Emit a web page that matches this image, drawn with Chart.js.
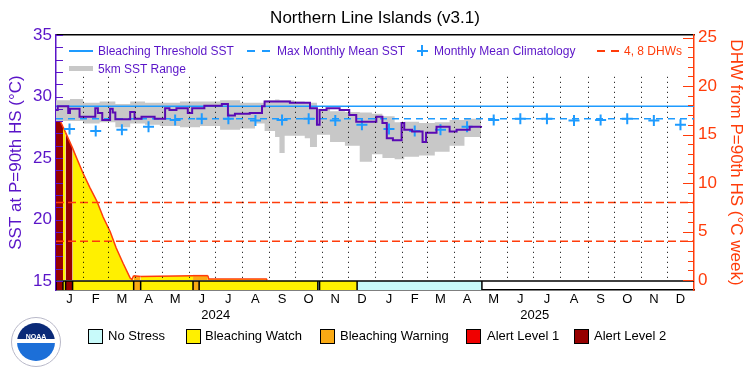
<!DOCTYPE html>
<html lang="en">
<head>
<meta charset="UTF-8">
<title>Northern Line Islands (v3.1)</title>
<script src="https://cdn.jsdelivr.net/npm/chart.js"></script>
<style>
  body { margin: 0; background: #fff; }
  #wrap { position: relative; width: 750px; height: 375px; font-family: "Liberation Sans", Arial, sans-serif; }
  #wrap canvas { position: absolute; left: 0; top: 0; }
  .lg { position: absolute; font-size: 12px; line-height: 14px; color: #5a14c8; white-space: nowrap; }
  .mk { position: absolute; }
  .sl { position: absolute; font-size: 13px; line-height: 16px; top: 328px; white-space: nowrap; color: #000; }
  .sb { position: absolute; top: 329px; width: 13px; height: 13px; border: 1px solid #000; box-sizing: content-box; }
  #logo { position: absolute; left: 11px; top: 317px; width: 48px; height: 48px; border-radius: 50%; border: 1px solid #b8b8c8; background: #fff; }
  #logo div { position: absolute; left: 5px; top: 5px; width: 38px; height: 38px; border-radius: 50%;
    background: linear-gradient(#0a2a78 0 42%, #fff 42% 52%, #1c6fd8 52%); }
  #logo span { position: absolute; left: 0; width: 48px; top: 15px; text-align: center; color: #fff; font-size: 7px; font-weight: bold; }
</style>
</head>
<body>
<div id="wrap">
  <canvas id="chart" width="750" height="375"></canvas>

  <!-- legend inside plot -->
  <div class="mk" style="left:69px;top:50px;width:24px;height:1.5px;background:#1e9bff"></div>
  <div class="lg" style="left:98px;top:44px">Bleaching Threshold SST</div>
  <div class="mk" style="left:247px;top:50px;width:23px;height:2px;background:linear-gradient(to right,#1e9bff 0 8px,transparent 8px 15px,#1e9bff 15px 23px)"></div>
  <div class="lg" style="left:277px;top:44px">Max Monthly Mean SST</div>
  <div class="mk" style="left:417px;top:50px;width:11px;height:2px;background:#1e9bff"></div>
  <div class="mk" style="left:421px;top:45px;width:2px;height:11px;background:#1e9bff"></div>
  <div class="lg" style="left:434px;top:44px">Monthly Mean Climatology</div>
  <div class="mk" style="left:597px;top:50px;width:22px;height:1.5px;background:linear-gradient(to right,#ff3c0a 0 8px,transparent 8px 14px,#ff3c0a 14px 22px)"></div>
  <div class="lg" style="left:624px;top:44px;color:#ff3c0a">4, 8 DHWs</div>
  <div class="mk" style="left:69px;top:66px;width:24px;height:5px;background:#c8c8c8"></div>
  <div class="lg" style="left:98px;top:62px">5km SST Range</div>

  <!-- stress legend -->
  <div id="logo"><div></div><span>NOAA</span></div>
  <div class="sb" style="left:88px;background:#c8fafa"></div><div class="sl" style="left:108px">No Stress</div>
  <div class="sb" style="left:186px;background:#fff000"></div><div class="sl" style="left:205px">Bleaching Watch</div>
  <div class="sb" style="left:320px;background:#faaa14"></div><div class="sl" style="left:340px">Bleaching Warning</div>
  <div class="sb" style="left:466px;background:#f00000"></div><div class="sl" style="left:487px">Alert Level 1</div>
  <div class="sb" style="left:574px;background:#960000"></div><div class="sl" style="left:594px">Alert Level 2</div>
</div>

<script>
// x values are days since 1 Jan 2024
const monthLetters = ['J', 'F', 'M', 'A', 'M', 'J', 'J', 'A', 'S', 'O', 'N', 'D'];
const years = [2024, 2025];

const sstDay = [0, 2, 14, 16, 27, 45, 48, 53, 62, 65, 68, 85, 90, 98, 113, 125, 130, 138, 151, 156,
  170, 190, 197, 205, 222, 236, 239, 268, 291, 299, 302, 310, 325, 336, 344, 367, 374, 379, 386, 396,
  399, 408, 420, 424, 436, 451, 459, 474, 487];
const sstValue = [28.9, 29.2, 28.65, 29.0, 28.35, 29.05, 28.65, 28.1, 29.0, 28.7, 28.15, 28.75, 28.2, 28.35, 28.2, 29.05, 28.9, 29.05, 28.65, 29.05,
  29.25, 29.4, 28.45, 28.6, 28.65, 29.2, 29.6, 29.5, 29.05, 27.7, 28.9, 29.05, 28.9, 28.5, 27.95, 28.35, 27.85, 26.6, 26.45, 27.85,
  27.3, 27.15, 26.3, 27.05, 27.55, 27.15, 27.3, 27.55, 27.6];

const rangeDay = [0, 16, 31, 50, 68, 85, 102, 119, 142, 165, 188, 211, 228, 239, 251, 256, 262, 273, 285, 291,
  299, 314, 331, 348, 362, 374, 388, 399, 416, 434, 451, 468, 487];
const rangeMin = [28.0, 28.0, 27.8, 27.9, 27.5, 27.8, 27.7, 27.6, 27.5, 27.6, 27.3, 27.4, 27.8, 27.2, 26.7, 25.4, 26.8, 26.8, 26.6, 25.9,
  26.9, 26.3, 26.0, 24.7, 25.3, 25.0, 24.9, 25.1, 25.2, 25.5, 26.0, 26.7, 27.6];
const rangeMax = [29.7, 29.8, 29.5, 29.6, 29.4, 29.6, 29.5, 29.5, 29.6, 29.6, 29.7, 29.5, 29.5, 29.7, 29.75, 29.7, 29.7, 29.6, 29.55, 29.5,
  29.0, 28.8, 28.75, 28.7, 28.6, 28.4, 27.9, 27.95, 27.85, 27.9, 28.1, 28.2, 28.3];

const climatology = [27.35, 27.2, 27.3, 27.55, 28.1, 28.2, 28.2, 28.05, 28.1, 28.2, 28.05, 27.7];
const bleachingThreshold = 29.2;
const maxMonthlyMean = 28.2;

const dhwDay = [0, 8, 11, 19, 24, 31, 39, 47, 54, 62, 69, 77, 85, 87, 89, 97, 157, 174, 175, 241, 242];
const dhwValue = [17.3, 15.8, 15.2, 13.6, 12.5, 11.0, 9.5, 8.1, 6.5, 5.0, 3.3, 1.7, 0.2, 0.05, 0.45, 0.35, 0.45, 0.45, 0.1, 0.1, 0];
const dhwLevels = [4, 8];

// 0 no stress, 1 watch, 2 warning, 3 alert 1, 4 alert 2
const stressStart = [0, 8, 11, 19, 89, 97, 157, 164, 300, 302, 345];
const stressLevel = [4, 1, 4, 1, 2, 1, 2, 1, 0, 1, 0];
const stressEnd = 488;
const stressColors = ['#c8fafa', '#fff000', '#faaa14', '#f00000', '#960000'];

const purple = '#5a14c8', blue = '#1e9bff', orange = '#ff3c0a';
const FONT = 'Liberation Sans, Arial, sans-serif';
const yMin = 14.27, yMax = 35, y2Min = -1.03, y2Max = 25.26;

const dayOf = (y, m) => (Date.UTC(y, m, 1) - Date.UTC(2024, 0, 1)) / 864e5;
const monthStarts = [];
years.forEach(y => { for (let m = 0; m < 12; m++) monthStarts.push(dayOf(y, m)); });
monthStarts.push(dayOf(years[years.length - 1] + 1, 0));
const monthMids = monthStarts.slice(0, -1).map((d, i) => (d + monthStarts[i + 1]) / 2);
const yearMids = years.map(y => (dayOf(y, 0) + dayOf(y + 1, 0)) / 2);

function levelAt(day) {
  let lv = 0;
  stressStart.forEach((s, i) => { if (day >= s) lv = stressLevel[i]; });
  return lv;
}

const pts = (xs, ys) => xs.map((x, i) => ({x: x, y: ys[i]}));
const full = v => [{x: 0, y: v}, {x: monthStarts[monthStarts.length - 1], y: v}];

// dotted month separators, drawn over the filled areas
const monthGrid = {
  id: 'monthGrid',
  afterDatasetsDraw(chart) {
    const {ctx, scales: {x, y}} = chart;
    const top = y.getPixelForValue(31.6), bottom = y.getPixelForValue(15);
    ctx.save();
    ctx.strokeStyle = '#000';
    ctx.lineWidth = 1;
    ctx.setLineDash([1, 4]);
    monthStarts.slice(1, -1).forEach(d => {
      const px = Math.round(x.getPixelForValue(d)) + 0.5;
      ctx.beginPath(); ctx.moveTo(px, top); ctx.lineTo(px, bottom); ctx.stroke();
    });
    ctx.restore();
  }
};

// tick marks pointing into the plot
const innerTicks = {
  id: 'innerTicks',
  afterDraw(chart) {
    const {ctx, chartArea: a, scales: {y, y2}} = chart;
    ctx.save();
    ctx.lineWidth = 1;
    ctx.strokeStyle = purple;
    for (let v = 15; v <= 35; v++) {
      const py = Math.round(y.getPixelForValue(v)) + 0.5;
      ctx.beginPath(); ctx.moveTo(a.left, py); ctx.lineTo(a.left + 7, py); ctx.stroke();
    }
    ctx.strokeStyle = orange;
    for (let v = 0; v <= 25; v++) {
      const py = Math.round(y2.getPixelForValue(v)) + 0.5;
      const len = v % 5 ? 6 : 11;
      ctx.beginPath(); ctx.moveTo(a.right - len, py); ctx.lineTo(a.right, py); ctx.stroke();
    }
    ctx.restore();
  }
};

const climPoints = [];
years.forEach((y, k) => climatology.forEach((v, m) => climPoints.push({x: monthMids[k * 12 + m], y: v})));

const stressPoints = stressStart.map(d => ({x: d, y: 15})).concat([{x: stressEnd, y: 15}]);
const edgePoints = stressStart.concat([stressEnd]).map(d => ({x: d, y: (yMin + 15) / 2}));

const noGrid = { display: false, drawTicks: false };

new Chart(document.getElementById('chart'), {
  type: 'line',
  data: {
    datasets: [
      { label: 'SST', data: pts(sstDay, sstValue), borderColor: '#5a0ab4', borderWidth: 2, stepped: true, order: 1 },
      { label: 'Monthly Mean Climatology', data: climPoints, showLine: false, pointStyle: 'cross', pointRadius: 5.5,
        pointBorderWidth: 2, pointBorderColor: blue, order: 2 },
      { label: 'Bleaching Threshold SST', data: full(bleachingThreshold), borderColor: blue, borderWidth: 1.5, order: 3 },
      { label: 'Max Monthly Mean SST', data: full(maxMonthlyMean), borderColor: blue, borderWidth: 1.5, borderDash: [7, 5], order: 4 },
      { label: 'SST max', data: pts(rangeDay, rangeMax), borderColor: 'rgba(0,0,0,0)', borderWidth: 0, stepped: true,
        fill: '+1', backgroundColor: '#c8c8c8', order: 5 },
      { label: 'SST min', data: pts(rangeDay, rangeMin), borderColor: 'rgba(0,0,0,0)', borderWidth: 0, stepped: true, order: 5 },
      { label: 'DHW 8', yAxisID: 'y2', data: full(dhwLevels[1]), borderColor: orange, borderWidth: 1.5, borderDash: [8, 4], order: 6 },
      { label: 'DHW 4', yAxisID: 'y2', data: full(dhwLevels[0]), borderColor: orange, borderWidth: 1.5, borderDash: [8, 4], order: 6 },
      { label: 'stress top', data: full(15), borderColor: '#000', borderWidth: 1.5, order: 0 },
      { label: 'stress edges', data: edgePoints, showLine: false, pointStyle: 'line', pointRotation: 90, pointRadius: 4.5,
        pointBorderWidth: 1.5, pointBorderColor: '#000', order: 0 },
      { label: 'DHW', yAxisID: 'y2', data: pts(dhwDay, dhwValue), borderColor: orange, borderWidth: 1.5,
        fill: 'origin', backgroundColor: stressColors[1],
        segment: { backgroundColor: c => stressColors[levelAt(dhwDay[c.p0DataIndex])] }, order: 7 },
      { label: 'stress', data: stressPoints, borderColor: 'rgba(0,0,0,0)', borderWidth: 0, fill: 'start',
        backgroundColor: stressColors[1],
        segment: { backgroundColor: c => stressColors[stressLevel[c.p0DataIndex]] }, order: 8 }
    ]
  },
  options: {
    responsive: false,
    animation: false,
    events: [],
    elements: { point: { radius: 0 }, line: { tension: 0 } },
    plugins: {
      legend: { display: false },
      tooltip: { enabled: false },
      title: { display: true, text: 'Northern Line Islands (v3.1)', color: '#000',
        font: { family: FONT, size: 17, weight: 'normal' }, padding: { top: 8, bottom: 0 } }
    },
    scales: {
      x: {
        type: 'linear', position: 'bottom', min: 0, max: monthStarts[monthStarts.length - 1], weight: 0,
        grid: noGrid, border: { color: '#000', width: 1.5 },
        afterBuildTicks: s => { s.ticks = monthMids.map(v => ({value: v})); },
        afterFit: s => { s.height = 18; },
        ticks: { autoSkip: false, maxRotation: 0, padding: 2, color: '#000', font: { family: FONT, size: 13 },
          callback: (v, i) => monthLetters[i % 12] }
      },
      x2: {
        type: 'linear', position: 'bottom', min: 0, max: monthStarts[monthStarts.length - 1], weight: 1,
        grid: noGrid, border: { display: false },
        afterBuildTicks: s => { s.ticks = yearMids.map(v => ({value: v})); },
        afterFit: s => { s.height = 67; },
        ticks: { autoSkip: false, maxRotation: 0, padding: 0, color: '#000', font: { family: FONT, size: 13 },
          callback: (v, i) => String(years[i]) }
      },
      xTop: {
        type: 'linear', position: 'top', min: 0, max: monthStarts[monthStarts.length - 1],
        grid: noGrid, border: { color: '#000', width: 1.5 }, ticks: { display: false },
        afterFit: s => { s.height = 6.6; }
      },
      y: {
        position: 'left', min: yMin, max: yMax,
        grid: noGrid, border: { color: purple, width: 1.5 },
        afterBuildTicks: s => { s.ticks = [15, 20, 25, 30, 35].map(v => ({value: v})); },
        afterFit: s => { s.width = 56; },
        ticks: { padding: 4, color: purple, font: { family: FONT, size: 17 } },
        title: { display: true, text: 'SST at P=90th HS (°C)', color: purple, padding: { top: 6 },
          font: { family: FONT, size: 17 } }
      },
      y2: {
        position: 'right', min: y2Min, max: y2Max,
        grid: noGrid, border: { color: orange, width: 1.5 },
        afterBuildTicks: s => { s.ticks = [0, 5, 10, 15, 20, 25].map(v => ({value: v})); },
        afterFit: s => { s.width = 56; },
        ticks: { padding: 4, color: orange, font: { family: FONT, size: 17 } },
        title: { display: true, text: 'DHW from P=90th HS (°C week)', color: orange, padding: { top: 4 },
          font: { family: FONT, size: 17 } }
      }
    }
  },
  plugins: [monthGrid, innerTicks]
});
</script>
</body>
</html>
